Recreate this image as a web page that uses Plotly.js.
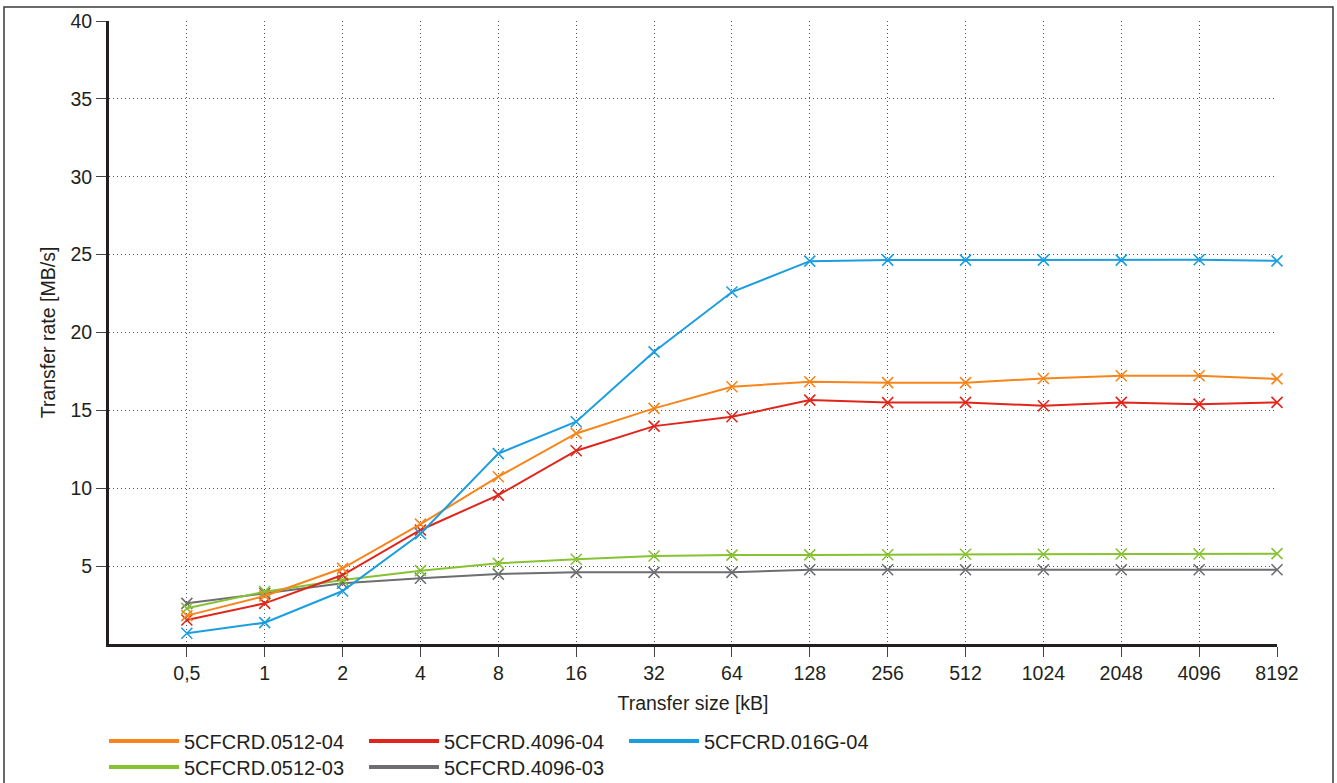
<!DOCTYPE html>
<html>
<head>
<meta charset="utf-8">
<script src="https://cdn.plot.ly/plotly-3.0.1.min.js"></script>
<style>
html,body{margin:0;padding:0;background:#fff;}
#chart{width:1337px;height:783px;}
</style>
</head>
<body>
<div id="chart"></div>
<script>
// Transfer sizes (kB)
const categories = ['0,5','1','2','4','8','16','32','64','128','256','512','1024','2048','4096','8192'];

// Transfer rates (MB/s)
const s0512_04 = [1.82, 3.08, 4.86, 7.70, 10.74, 13.52, 15.13, 16.52, 16.84, 16.78, 16.78, 17.05, 17.22, 17.22, 17.02];
const s4096_04 = [1.54, 2.61, 4.43, 7.32, 9.56, 12.41, 13.99, 14.59, 15.66, 15.50, 15.51, 15.30, 15.51, 15.40, 15.51];
const s016G_04 = [0.69, 1.37, 3.40, 7.08, 12.22, 14.27, 18.76, 22.60, 24.58, 24.65, 24.65, 24.65, 24.65, 24.67, 24.60];
const s0512_03 = [2.29, 3.36, 4.11, 4.71, 5.18, 5.44, 5.65, 5.71, 5.72, 5.73, 5.76, 5.76, 5.78, 5.78, 5.80];
const s4096_03 = [2.61, 3.25, 3.90, 4.22, 4.49, 4.60, 4.60, 4.60, 4.77, 4.77, 4.77, 4.77, 4.77, 4.77, 4.77];

const seriesNames = ['5CFCRD.0512-04','5CFCRD.4096-04','5CFCRD.016G-04','5CFCRD.0512-03','5CFCRD.4096-03'];
const seriesValues = [s0512_04, s4096_04, s016G_04, s0512_03, s4096_03];
const seriesColors = ['#f7851b','#e1251b','#1b9ee0','#86c232','#6d6e71'];
const seriesLegend = ['legend','legend','legend','legend2','legend2'];

const FONT = '"Liberation Sans", Arial, sans-serif';
const TXT = '#231f20';
const FS = 19.5;

const traces = [];
// draw order: grey, green, red, orange, blue on top
const drawOrder = [4,3,1,0,2];
drawOrder.forEach(i => {
  traces.push({
    type:'scatter', mode:'lines+markers',
    x: categories, y: seriesValues[i], name: seriesNames[i],
    showlegend:false,
    line:{color:seriesColors[i], width:2},
    marker:{symbol:'x-thin-open', size:11, color:seriesColors[i], line:{color:seriesColors[i], width:1.6}},
    cliponaxis:false
  });
});
// legend entries (line only)
for (let i=0;i<5;i++){
  traces.push({
    type:'scatter', mode:'lines', x:[null], y:[null], name:seriesNames[i],
    line:{color:seriesColors[i], width:4}, legend:seriesLegend[i], showlegend:true
  });
}

const L=109, R=1277, T=21, B=644;
const W=R-L, H=B-T;
const px = v => (v-L)/W;
const py = v => (B-v)/H;

const legendBase = {
  orientation:'h', xanchor:'left', yanchor:'middle',
  entrywidth:175, entrywidthmode:'pixels', itemwidth:70,
  font:{family:FONT, size:20, color:TXT}, bgcolor:'rgba(0,0,0,0)',
  traceorder:'normal', borderwidth:0
};

const layout = {
  width:1337, height:783,
  margin:{l:L, r:1337-R, t:T, b:783-B, autoexpand:false},
  paper_bgcolor:'#fff', plot_bgcolor:'#fff',
  font:{family:FONT, size:FS, color:TXT},
  showlegend:true,
  xaxis:{
    type:'category', range:[-1,14], autorange:false,
    showline:true, linecolor:TXT, linewidth:3,
    ticks:'outside', ticklen:10, tickwidth:1, tickcolor:'#444',
    showgrid:true, gridcolor:'#555', gridwidth:1, griddash:'1px,3px',
    zeroline:false, tickfont:{family:FONT, size:FS, color:TXT},
    title:{text:'Transfer size [kB]', font:{family:FONT, size:FS, color:TXT}, standoff:13},
    automargin:false, fixedrange:true
  },
  yaxis:{
    range:[0,40], autorange:false, dtick:5, tick0:0,
    showline:true, linecolor:TXT, linewidth:3,
    ticks:'outside', ticklen:10, tickwidth:1, tickcolor:'#444',
    showgrid:true, gridcolor:'#555', gridwidth:1, griddash:'1px,3px',
    zeroline:false, tickfont:{family:FONT, size:FS, color:TXT},
    tickvals:[5,10,15,20,25,30,35,40],
    title:{text:'Transfer rate [MB/s]', font:{family:FONT, size:FS, color:TXT}, standoff:10},
    automargin:false, fixedrange:true
  },
  legend: Object.assign({}, legendBase, {x:px(104), y:py(741)}),
  legend2: Object.assign({}, legendBase, {x:px(104), y:py(767)}),
  shapes:[{
    type:'rect', xref:'paper', yref:'paper',
    x0:px(4), x1:px(1333), y0:py(800), y1:py(7),
    line:{color:'#3a3a3a', width:1.5}, fillcolor:'rgba(0,0,0,0)', layer:'above'
  }]
};

Plotly.newPlot('chart', traces, layout, {displayModeBar:false, staticPlot:true});
</script>
</body>
</html>
